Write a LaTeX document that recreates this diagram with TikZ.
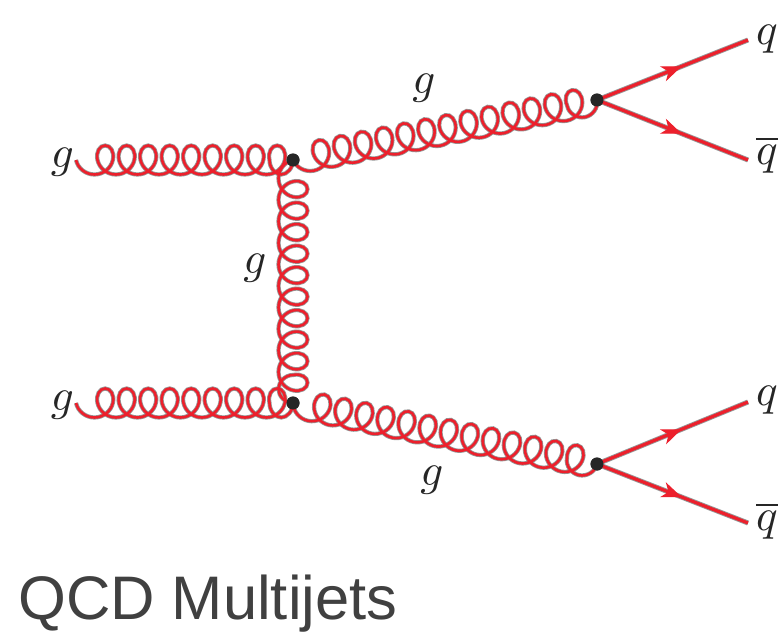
\documentclass[tikz,border=0pt]{standalone}
\usepackage{fontspec}
\setsansfont{Liberation Sans}
\usetikzlibrary{arrows.meta,decorations.pathmorphing,decorations.markings}
\definecolor{GluonRed}{RGB}{236,32,44}
\definecolor{Halo}{RGB}{150,150,150}
% coil that runs its loops close up to both ends of the path
\def\gpt#1#2#3{\pgfpoint{(#1)*\pgfdecorationsegmentaspect*\pgfdecorationsegmentamplitude+(#3)*\pgfdecorationsegmentlength/12}{(#2)*\pgfdecorationsegmentamplitude}}
\pgfdeclaredecoration{gluonloop}{loop}{
  \state{loop}[switch if less than=1.9*\pgfdecorationsegmentlength to last,width=+\pgfdecorationsegmentlength]{
    \pgfpathcurveto{\gpt{0}{-.555}{1}}{\gpt{.445}{-1}{2}}{\gpt{1}{-1}{3}}
    \pgfpathcurveto{\gpt{1.555}{-1}{4}}{\gpt{2}{-.555}{5}}{\gpt{2}{0}{6}}
    \pgfpathcurveto{\gpt{2}{.555}{7}}{\gpt{1.555}{1}{8}}{\gpt{1}{1}{9}}
    \pgfpathcurveto{\gpt{.445}{1}{10}}{\gpt{0}{.555}{11}}{\gpt{0}{0}{12}}
  }
  \state{last}[width=\pgfdecoratedremainingdistance,next state=final]{
    \pgfpathcurveto{\pgfpoint{0pt}{-.555*\pgfdecorationsegmentamplitude}}
      {\pgfpoint{.25*\pgfdecoratedremainingdistance}{-\pgfdecorationsegmentamplitude}}
      {\pgfpoint{.5*\pgfdecoratedremainingdistance}{-\pgfdecorationsegmentamplitude}}
    \pgfpathcurveto{\pgfpoint{.75*\pgfdecoratedremainingdistance}{-\pgfdecorationsegmentamplitude}}
      {\pgfpoint{\pgfdecoratedremainingdistance}{-.555*\pgfdecorationsegmentamplitude}}
      {\pgfpoint{\pgfdecoratedremainingdistance}{0pt}}
  }
  \state{final}{\pgfpathlineto{\pgfpointdecoratedpathlast}}
}
\begin{document}
\begin{tikzpicture}[x=1pt,y=-1pt,
  vertex/.style={circle,fill=black!85,inner sep=0pt,minimum size=13pt},
  lbl/.style={scale=4.5,text=black!85,inner sep=0pt},
  gluonbase/.style={decorate,decoration={gluonloop,amplitude=14.5pt,segment length=21.5pt,aspect=.9}},
  gluonhalo/.style={gluonbase,draw=Halo,line width=4.2pt},
  gluon/.style={gluonbase,draw=GluonRed,line width=2.6pt},
  quarkhalo/.style={draw=Halo,line width=5pt},
  quark/.style={draw=GluonRed,line width=3.2pt,postaction={decorate},
    decoration={markings,mark=at position .56 with {\arrow[GluonRed,line width=1pt]{Stealth[length=20pt,width=16pt,inset=6pt]}}}}]
\useasboundingbox (0,0) rectangle (782,634);
% vertices
\node[vertex] (top) at (293,160) {};
\node[vertex] (bot) at (293,403) {};
\node[vertex] (topr) at (597,100) {};
\node[vertex] (botr) at (597,464) {};
% free ends
\coordinate (gin1) at (76,160);
\coordinate (gin2) at (76,403);
\coordinate (q1) at (748,40);
\coordinate (qb1) at (748,160);
\coordinate (q2) at (748,402);
\coordinate (qb2) at (748,523);
% halos first
\foreach \p/\r in {gin1/top,gin2/bot,top/bot,top/topr,bot/botr}
  \draw[gluonhalo] (\p.center) -- (\r.center);
\foreach \p/\r in {topr/q1,topr/qb1,botr/q2,botr/qb2}
  \draw[quarkhalo] (\p.center) -- (\r);
% gluons
\foreach \p/\r in {gin1/top,gin2/bot,top/bot,top/topr,bot/botr}
  \draw[gluon] (\p.center) -- (\r.center);
% quarks
\foreach \p/\r in {topr/q1,topr/qb1,botr/q2,botr/qb2}
  \draw[quark] (\p.center) -- (\r);
\node[vertex] at (top) {};
\node[vertex] at (bot) {};
\node[vertex] at (topr) {};
\node[vertex] at (botr) {};
% labels
\node[lbl] (g1) at (62.5,162) {$g$};
\node[lbl] (g2) at (62.5,405) {$g$};
\node[lbl] (g3) at (255,268) {$g$};
\node[lbl] (g4) at (424,88) {$g$};
\node[lbl] (g5) at (432,480) {$g$};
\node[lbl] (lq1) at (767,39) {$q$};
\node[lbl] (lqb1) at (767,155) {$\overline{q}$};
\node[lbl] (lq2) at (767,400) {$q$};
\node[lbl] (lqb2) at (767,521) {$\overline{q}$};
\node[anchor=west,inner sep=0pt,font=\sffamily\fontsize{61.5}{62}\selectfont,text=black!75] (title) at (18,604) {QCD Multijets};
\end{tikzpicture}
\end{document}
